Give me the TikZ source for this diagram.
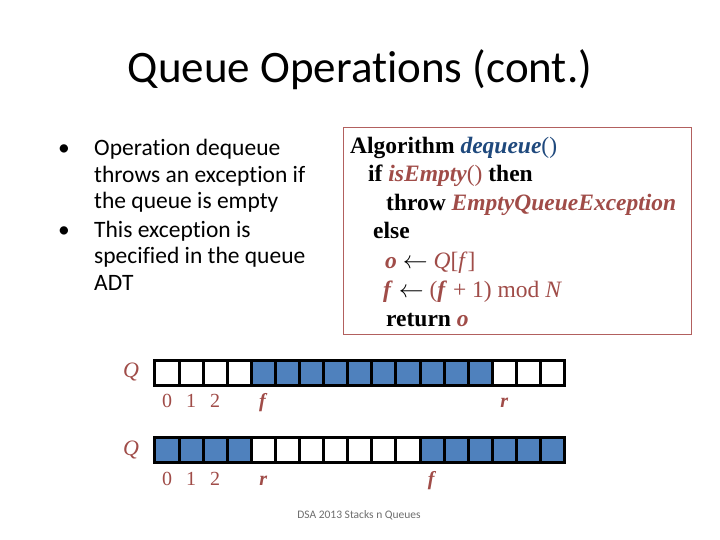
\documentclass[tikz,border=0pt]{standalone}
\usepackage{fontspec}
\setmainfont{Liberation Serif}
\newfontfamily\slidefont[Ligatures=NoCommon]{Carlito}
\usepackage{xcolor}
\usetikzlibrary{positioning}
\definecolor{algred}{RGB}{160, 76, 72}
\definecolor{algblue}{RGB}{31, 73, 125}
\definecolor{boxborder}{RGB}{178, 96, 94}
\definecolor{cellfill}{RGB}{79, 129, 189}
\definecolor{footgray}{RGB}{110, 110, 110}
\tikzset{
  titletext/.style={font=\slidefont\fontsize{45}{50}\selectfont, inner sep=0pt},
  bullettext/.style={font=\slidefont\fontsize{23.5}{28}\selectfont, inner sep=0pt, anchor=base west},
  algbox/.style={rectangle, draw=boxborder, line width=0.8pt, anchor=north west,
    minimum width=348pt, minimum height=207pt},
  algline/.style={font=\bfseries\fontsize{23.5}{28}\selectfont, inner sep=0pt, anchor=base west},
  emptycell/.style={rectangle, draw=black, line width=3pt, fill=white,
    minimum width=24.1pt, minimum height=25pt, inner sep=0pt},
  fullcell/.style={emptycell, fill=cellfill},
  qlabel/.style={font=\itshape\fontsize{22}{26}\selectfont, text=algred, inner sep=0pt},
  idxlabel/.style={font=\fontsize{20}{24}\selectfont, text=algred, inner sep=0pt, anchor=base},
  footer/.style={font=\slidefont\fontsize{11.5}{13}\selectfont, text=footgray, inner sep=0pt}
}

\begin{document}
\begin{tikzpicture}[x=1pt, y=-1pt]
  \useasboundingbox[fill=white] (0,0) rectangle (720,540);

  \node[titletext] (title) at (360,70) {Queue Operations (cont.)};

  % bullets on the left
  \node[bullettext] (dot1) at (58,156) {\textbullet};
  \node[bullettext] (b1) at (94,156) {Operation dequeue};
  \node[bullettext] (b2) at (94,182.5) {throws an exception if};
  \node[bullettext] (b3) at (94,209) {the queue is empty};
  \node[bullettext] (dot2) at (58,237) {\textbullet};
  \node[bullettext] (b4) at (94,237) {This exception is};
  \node[bullettext] (b5) at (94,263.5) {specified in the queue};
  \node[bullettext] (b6) at (94,290) {ADT};

  % algorithm box
  \node[algbox] (algo) at (343,127) {};
  \node[algline] (a1) at (350,154) {Algorithm \textcolor{algblue}{\textit{dequeue}\textmd{()}}};
  \node[algline] (a2) at (368,182) {if \textcolor{algred}{\textit{isEmpty}\textmd{()}} then};
  \node[algline] (a3) at (386,211) {throw \textcolor{algred}{\textit{EmptyQueueException}}};
  \node[algline] (a4) at (373,239) {else};
  \node[algline] (a5) at (385,268) {\textcolor{algred}{\textit{o}} \textmd{$\leftarrow$ \textcolor{algred}{\textit{Q}[\textit{f}]}}};
  \node[algline] (a6) at (383,297) {\textcolor{algred}{\textit{f}} \textmd{$\leftarrow$ \textcolor{algred}{(\textbf{\textit{f}} + 1) mod \textit{N}}}};
  \node[algline] (a7) at (386,326) {return \textcolor{algred}{\textit{o}}};

  % first array: f at 4, r at 14
  \node[qlabel] (qa) at (131,372) {Q};
  \foreach \i in {0,1,2,3,14,15,16}
    \node[emptycell] (qa\i) at ({167+24.1*\i},372.5) {};
  \foreach \i in {4,...,13}
    \node[fullcell] (qa\i) at ({167+24.1*\i},372.5) {};
  \node[idxlabel, below=21pt of qa0.south, anchor=base] (ia0) {0};
  \node[idxlabel, below=21pt of qa1.south, anchor=base] (ia1) {1};
  \node[idxlabel, below=21pt of qa2.south, anchor=base] (ia2) {2};
  \node[idxlabel, below=21pt of qa4.south, anchor=base] (iaf) {\textbf{\textit{f}}};
  \node[idxlabel, below=21pt of qa14.south, anchor=base] (iar) {\textbf{\textit{r}}};

  % second array: wrapped around
  \node[qlabel] (qb) at (131,450) {Q};
  \foreach \i in {4,...,10}
    \node[emptycell] (qb\i) at ({167+24.1*\i},450) {};
  \foreach \i in {0,1,2,3,11,12,13,14,15,16}
    \node[fullcell] (qb\i) at ({167+24.1*\i},450) {};
  \node[idxlabel, below=21pt of qb0.south, anchor=base] (ib0) {0};
  \node[idxlabel, below=21pt of qb1.south, anchor=base] (ib1) {1};
  \node[idxlabel, below=21pt of qb2.south, anchor=base] (ib2) {2};
  \node[idxlabel, below=21pt of qb4.south, anchor=base] (ibr) {\textbf{\textit{r}}};
  \node[idxlabel, below=21pt of qb11.south, anchor=base] (ibf) {\textbf{\textit{f}}};

  \node[footer] (foot) at (359,515) {DSA 2013 Stacks n Queues};
\end{tikzpicture}
\end{document}
